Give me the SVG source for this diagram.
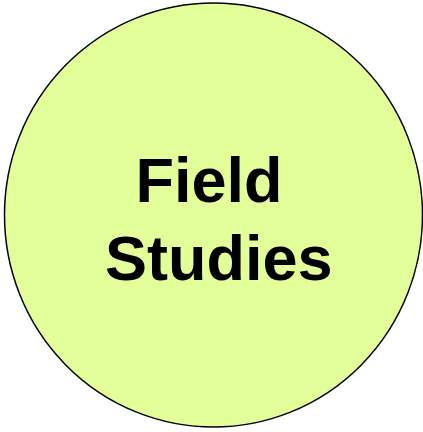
<svg xmlns="http://www.w3.org/2000/svg" width="423" height="432" viewBox="0 0 423 432">
<style>
.lbl{font-family:"Liberation Sans",Arial,sans-serif;font-weight:bold;font-size:63px;fill:#000}
</style>
<g id="field-studies">
<ellipse cx="213.5" cy="215" rx="209" ry="212" fill="#E3FF99" stroke="#000" stroke-width="1.5"/>
<text class="lbl" x="135.5" y="202">Field</text>
<text class="lbl" x="105" y="280">Studies</text>
</g>
</svg>
